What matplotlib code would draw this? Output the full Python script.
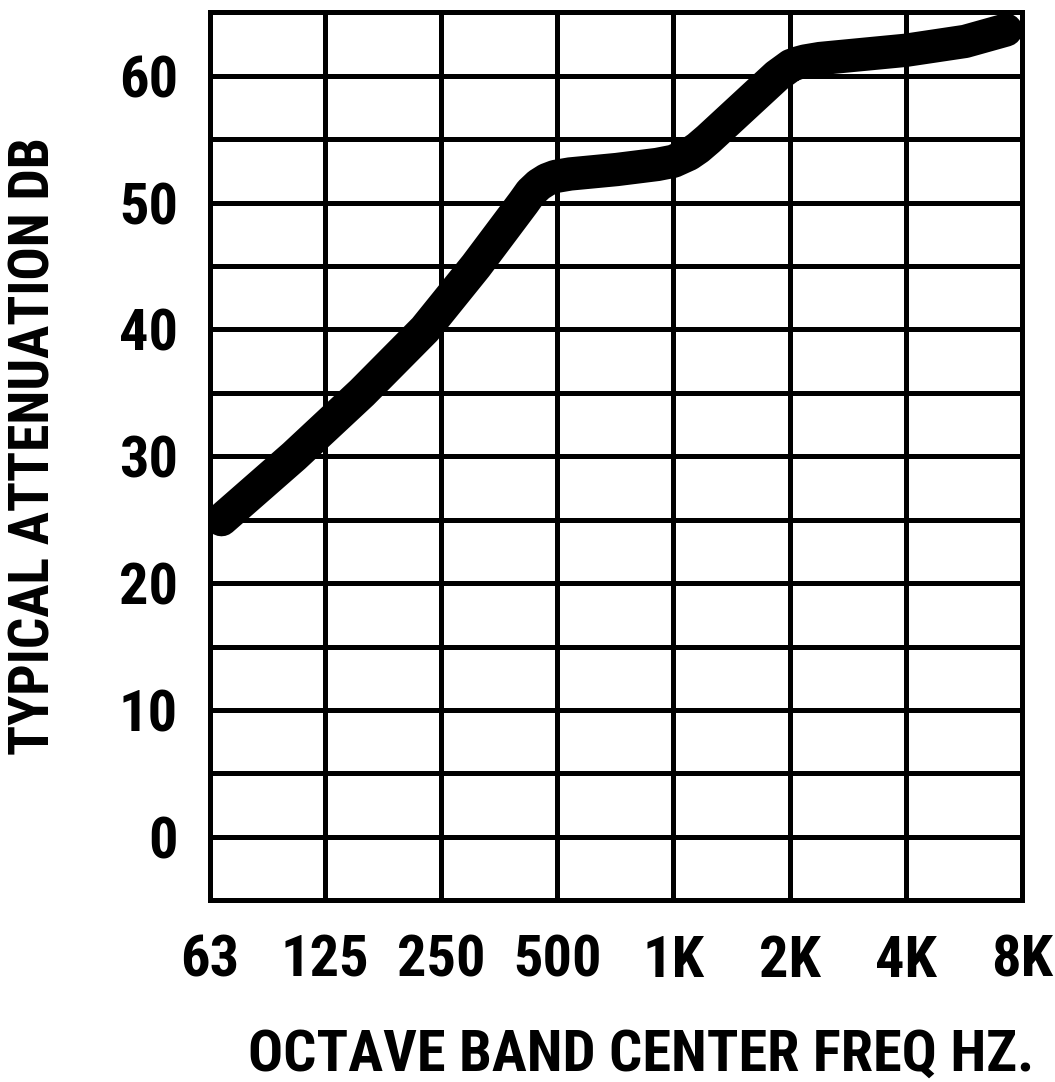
import matplotlib.pyplot as plt
import numpy as np

# octave band centres and their labels
band_freqs = [63, 125, 250, 500, 1000, 2000, 4000, 8000]
band_labels = ['63', '125', '250', '500', '1K', '2K', '4K', '8K']

# attenuation curve (Hz, dB)
curve_freq = [67.5, 104, 156, 227, 308, 409, 427, 448, 470, 494, 540, 713, 908, 1000,
              1096, 1158, 1232, 1855, 1934, 2016, 2102, 2191, 2397, 4000, 5700, 7270]
curve_db = [25.0, 30.0, 35.0, 40.0, 45.0, 50.0, 50.8, 51.4, 51.8, 52.05, 52.25, 52.6, 53.0, 53.25,
            53.8, 54.3, 55.0, 60.0, 60.4, 60.8, 61.0, 61.15, 61.35, 62.0, 62.7, 63.6]

y_ticks = np.arange(-5, 66, 5)

plt.rcParams['font.family'] = ['Roboto Condensed', 'Barlow Condensed', 'DejaVu Sans']
plt.rcParams['font.weight'] = 'bold'

fig = plt.figure(figsize=(10.55, 10.82), dpi=100)
ax = fig.add_axes([0.199, 0.168, 0.7697, 0.8207])

ax.plot(curve_freq, curve_db, color='black', lw=24,
        solid_capstyle='round', solid_joinstyle='round', zorder=3)

ax.set_xscale('log', base=2)
ax.set_xlim(63, 8000)
ax.set_ylim(-5, 65)
ax.set_xticks(band_freqs)
ax.set_xticklabels(band_labels)
ax.xaxis.set_minor_locator(plt.NullLocator())
ax.set_yticks(y_ticks)
ax.set_yticklabels([str(v) if v % 10 == 0 and 0 <= v <= 60 else '' for v in y_ticks])

ax.grid(True, color='black', lw=3.6)
ax.set_axisbelow(True)
for s in ax.spines.values():
    s.set_linewidth(3.6)
    s.set_zorder(4)

ax.tick_params(length=0, labelsize=42)
ax.tick_params(axis='x', pad=24)
ax.tick_params(axis='y', pad=23)

ax.set_xlabel('OCTAVE BAND CENTER FREQ HZ.', fontsize=42, fontweight='bold', va='center')
ax.xaxis.set_label_coords(0.531, -0.1745)
ax.set_ylabel('TYPICAL ATTENUATION DB', fontsize=40, fontweight='bold', va='center')
ax.yaxis.set_label_coords(-0.2155, 0.512)

plt.savefig('out.png', dpi=100)
